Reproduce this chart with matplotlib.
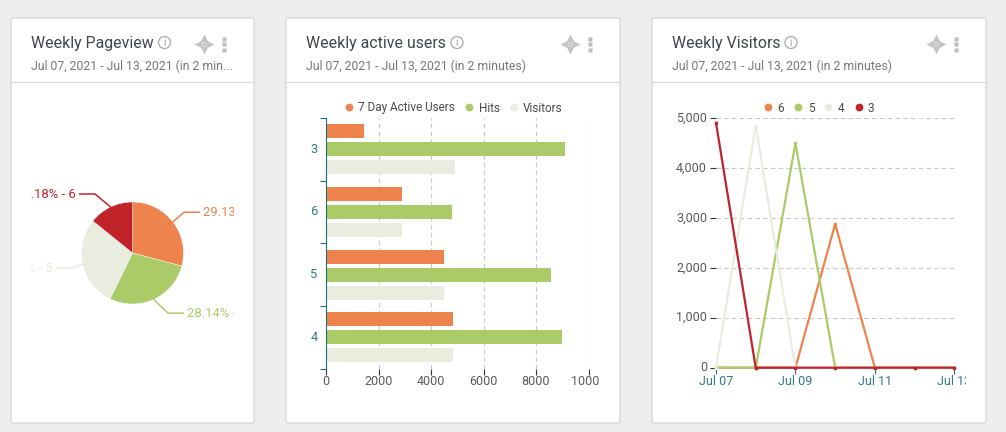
import matplotlib
matplotlib.use("Agg")
import matplotlib.pyplot as plt
from matplotlib.patches import FancyBboxPatch, Circle
from matplotlib.lines import Line2D
from matplotlib.transforms import Bbox, ScaledTranslation
import numpy as np

plt.rcParams['font.family'] = ['Roboto', 'DejaVu Sans']

W, H = 1006, 432
ORANGE, GREEN, PALE, RED = '#EF834E', '#ABCB69', '#E8EDDF', '#C1232B'
TEAL = '#2F7C85'
GREY = '#5A5A5A'

# Data
titles = ['Weekly Pageview', 'Weekly active users', 'Weekly Visitors']
subtitles = ['Jul 07, 2021 - Jul 13, 2021 (in 2 min...',
             'Jul 07, 2021 - Jul 13, 2021 (in 2 minutes)',
             'Jul 07, 2021 - Jul 13, 2021 (in 2 minutes)']

pie_names = ['3', '4', '5', '6']
pie_shares = [29.13, 28.14, 28.55, 14.18]

bar_categories = ['3', '6', '5', '4']
active_users = [1440, 2880, 4500, 4850]
hits = [9110, 4785, 8575, 8985]
visitors = [4910, 2880, 4500, 4850]

days = ['Jul 07', 'Jul 08', 'Jul 09', 'Jul 10', 'Jul 11', 'Jul 12', 'Jul 13']
series_6 = [0, 0, 0, 2880, 0, 0, 0]
series_5 = [0, 0, 4500, 0, 0, 0, 0]
series_4 = [0, 4850, 0, 0, 0, 0, 0]
series_3 = [4910, 0, 0, 0, 0, 0, 0]

fig = plt.figure(figsize=(W / 100, H / 100), dpi=100, facecolor='#EEEEEE')


def px_axes(x0, y0, x1, y1, **kw):
    return fig.add_axes([x0 / W, 1 - y1 / H, (x1 - x0) / W, (y1 - y0) / H], **kw)


def clip_px(x0, x1):
    return Bbox([[x0, 0], [x1, H]])


# Dashboard chrome in pixel coordinates
bg = px_axes(0, 0, W, H)
bg.set_xlim(0, W)
bg.set_ylim(H, 0)
bg.axis('off')

cards = [(11, 254), (286, 620), (652, 986)]
info_x = [164.5, 457, 791]
move_x = [204, 570, 936.5]
for (x0, x1), title, sub, ix, mx in zip(cards, titles, subtitles, info_x, move_x):
    bg.add_patch(FancyBboxPatch((x0, 18), x1 - x0, 405,
                                boxstyle='round,pad=0,rounding_size=2',
                                fc='white', ec='#D6D6D6', lw=0.9))
    bg.plot([x0, x1], [82, 82], color='#DADADA', lw=0.9)
    tx = x0 + 20
    bg.text(tx, 43.5, title, fontsize=11.45, color='#3F4650', va='center', ha='left')
    bg.text(tx, 66.5, sub, fontsize=8.87, color='#74787E', va='center', ha='left')
    bg.add_patch(Circle((ix, 42.5), 6, fc='none', ec='#A9A9A9', lw=0.9))
    bg.text(ix, 42.7, 'i', fontsize=7, color='#9A9A9A', ha='center', va='center')
    for dx, dy, mk in [(-6, 0, '<'), (6, 0, '>'), (0, -6, '^'), (0, 6, 'v')]:
        bg.plot(mx + dx, 44.3 + dy, marker=mk, ms=5.6, color='#C4C4C4', mec='none')
    bg.plot(mx, 44.3, marker='D', ms=2.6, color='#C9C9C9', mec='none')
    for dy in [-5.5, 0, 5.5]:
        bg.plot(mx + 20, 44.3 + dy, marker='s', ms=2.9, color='#BDBDBD', mec='none')

# Pie
pie_colors = [ORANGE, GREEN, PALE, RED]
leader_elbows = [(1.01, 0.80), (0.70, -1.18), (-1.19, -0.29), (-0.735, 1.157)]
R = 51
pcx, pcy = 132.5, 253
pie = px_axes(pcx - R, pcy - R, pcx + R, pcy + R)
pie.pie(pie_shares, colors=pie_colors, startangle=90, counterclock=False, radius=1,
        wedgeprops=dict(edgecolor='white', linewidth=0.3))
pie.set_xlim(-1, 1)
pie.set_ylim(-1, 1)
cum = np.cumsum([0] + pie_shares)
total = cum[-1]
for i, (name, share, col, (ex, ey)) in enumerate(zip(pie_names, pie_shares, pie_colors, leader_elbows)):
    a = np.deg2rad((cum[i] + share / 2) / total * 360)
    sx, cy = np.sin(a), np.cos(a)
    side = 1 if sx > 0 else -1
    hx = ex + side * 0.3
    pie.plot([sx, ex, hx], [cy, ey, ey], color=col, lw=1.1, clip_on=False)
    t = pie.text(hx + side * 0.07, ey - 0.01, f'{share:.2f}% - {name}', color=col, fontsize=9.4,
                 va='center', ha='left' if side > 0 else 'right', clip_on=True)
    t.set_clip_box(clip_px(31, 234))

up = ScaledTranslation(0, 1.2 / 72, fig.dpi_scale_trans)

# Bars
ax = px_axes(326, 118, 588.5, 368.5, facecolor='none')
y = np.arange(len(bar_categories))
offset, bh = 0.2875, 0.224
ax.barh(y - offset, active_users, bh, color=ORANGE, label='7 Day Active Users', zorder=3)
ax.barh(y, hits, bh, color=GREEN, label='Hits', zorder=3)
ax.barh(y + offset, visitors, bh, color=PALE, label='Visitors', zorder=3)
ax.set_xlim(0, 10000)
ax.set_ylim(len(bar_categories) - 0.5, -0.5)
ax.set_xticks(range(0, 10001, 2000))
ax.set_yticks(y, bar_categories)
ax.set_yticks(np.arange(-0.5, len(bar_categories)), minor=True)
ax.grid(axis='x', ls=(0, (4, 3)), color='#C8C8C8', lw=0.8, zorder=1)
ax.set_axisbelow(True)
for s in ['top', 'right', 'bottom']:
    ax.spines[s].set_visible(False)
ax.spines['left'].set_color('#1F6E78')
ax.spines['left'].set_zorder(5)
ax.tick_params(axis='y', which='major', length=0, labelcolor=TEAL, labelsize=9.4, pad=6)
ax.tick_params(axis='y', which='minor', length=4, color='#1F6E78', width=0.8)
ax.tick_params(axis='x', length=4, color='#333333', width=0.8, labelcolor=GREY, labelsize=9, pad=1)
for lab in ax.get_xticklabels():
    lab.set_clip_on(True)
    lab.set_clip_box(clip_px(0, 600))
for lab in ax.get_yticklabels():
    lab.set_transform(lab.get_transform() + up)
legend_kw = dict(loc='center', ncol=4, frameon=False, fontsize=8.45, labelcolor='#4A4A4A',
                 handlelength=1.0, handletextpad=0.3, columnspacing=0.7,
                 borderpad=0, borderaxespad=0)
handles = [Line2D([], [], ls='', marker='o', ms=5.6, color=c, mec='none', label=n)
           for c, n in [(ORANGE, '7 Day Active Users'), (GREEN, 'Hits'), (PALE, 'Visitors')]]
fig.legend(handles=handles, bbox_to_anchor=(453 / W, 1 - 108 / H), **legend_kw)

# Lines
lx = px_axes(716, 118.3, 954.3, 367.7, facecolor='none')
xs = np.arange(len(days))
for vals, col in [(series_6, ORANGE), (series_5, GREEN), (series_4, PALE), (series_3, RED)]:
    lx.plot(xs, vals, color=col, lw=1.6, marker='s', ms=1.9, clip_on=False, zorder=4)
lx.set_xlim(0, len(days) - 1)
lx.set_ylim(0, 5000)
lx.set_yticks(range(0, 5001, 1000))
lx.set_yticklabels([f'{v:,}' for v in range(0, 5001, 1000)])
lx.set_xticks(xs[::2], days[::2])
lx.grid(axis='y', ls=(0, (4, 3)), color='#C8C8C8', lw=0.8, zorder=1)
for s in lx.spines.values():
    s.set_visible(False)
lx.tick_params(axis='y', length=4, color='#333333', width=0.8, labelcolor=GREY, labelsize=9, pad=2.5)
lx.tick_params(axis='x', length=4, color='#1F6E78', width=0.8, labelcolor=TEAL, labelsize=9, pad=1.5)
for lab in lx.get_xticklabels():
    lab.set_clip_on(True)
    lab.set_clip_box(clip_px(0, 966))
for lab in lx.get_yticklabels():
    lab.set_transform(lab.get_transform() + up)
handles = [Line2D([], [], ls='', marker='o', ms=5.6, color=c, mec='none', label=n)
           for c, n in [(ORANGE, '6'), (GREEN, '5'), (PALE, '4'), (RED, '3')]]
fig.legend(handles=handles, bbox_to_anchor=(818.5 / W, 1 - 108 / H), **legend_kw)

fig.savefig('out.png', dpi=100, facecolor=fig.get_facecolor())
